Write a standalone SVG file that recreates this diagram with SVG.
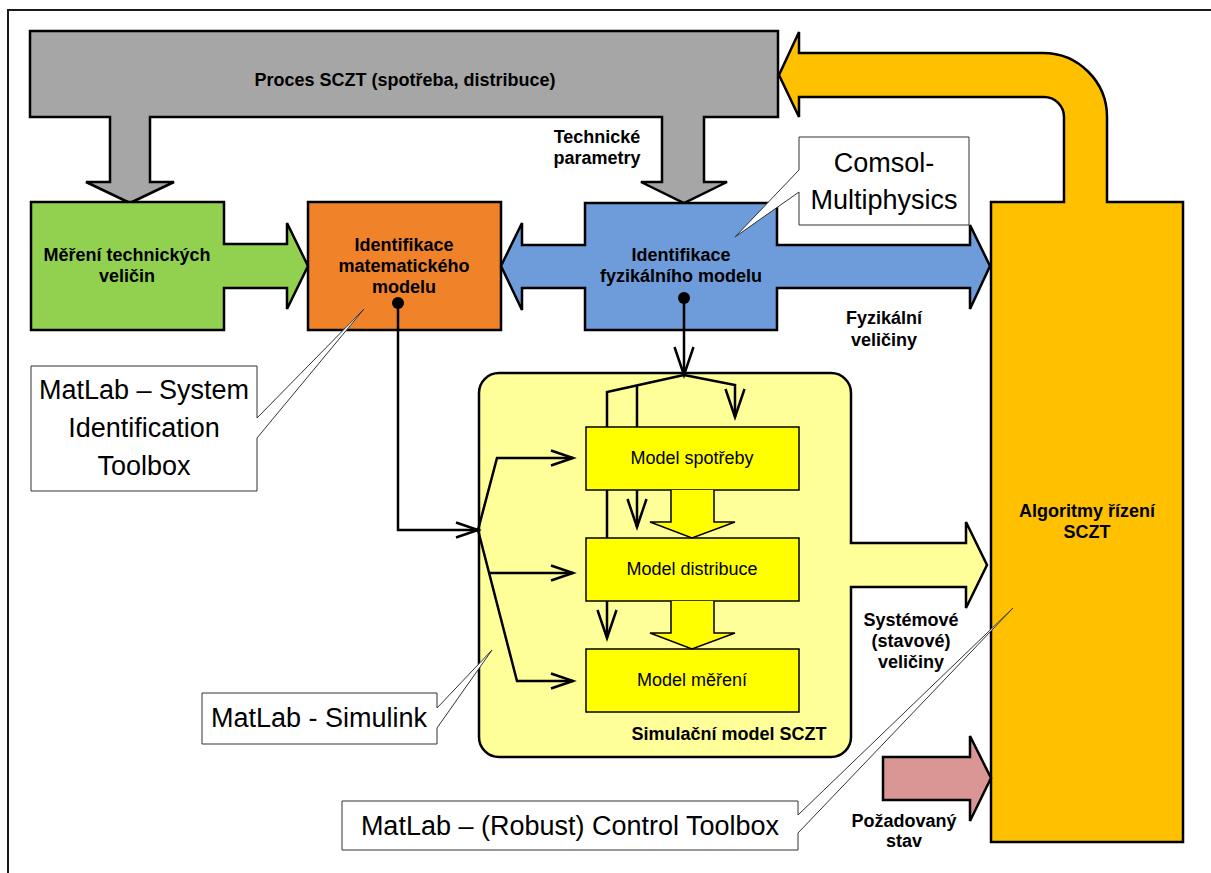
<svg xmlns="http://www.w3.org/2000/svg" width="1211" height="873" viewBox="0 0 1211 873">
<style>
.blk{stroke:#000;stroke-width:2.5;stroke-linejoin:miter}
.thin{stroke:#000;stroke-width:1.5}
.co{fill:#fff;stroke:#333;stroke-width:1}
.ln{fill:none;stroke:#000;stroke-width:2.5}
text{font-family:"Liberation Sans",Arial,sans-serif;text-anchor:middle;fill:#000}
.b{font-size:18px;font-weight:bold}
.r{font-size:18px}
.c{font-size:27px}
</style>
<defs>
<marker id="ah" markerUnits="userSpaceOnUse" markerWidth="26" markerHeight="20" viewBox="0 0 26 20" refX="23" refY="10" orient="auto" overflow="visible">
<path d="M1,2.5 L23,10 L1,17.5" fill="none" stroke="#000" stroke-width="2.5"/>
</marker>
<marker id="ahl" markerUnits="userSpaceOnUse" markerWidth="32" markerHeight="22" viewBox="0 0 32 22" refX="29" refY="11" orient="auto" overflow="visible">
<path d="M1,1.5 L29,11 L1,20.5" fill="none" stroke="#000" stroke-width="2.5"/>
</marker>
</defs>
<rect width="1211" height="873" fill="#fff"/>
<path d="M8,873 V10 H1211" fill="none" stroke="#1a1a1a" stroke-width="2"/>

<g id="proces">
<path class="blk" fill="#A6A6A6" d="M30,31 H778 V117 H704 V182 H727 L684,203 L641,182 H662 V117 H150 V182 H174 L130,203 L86,182 H110 V117 H30 Z"/>
<text class="b" x="405" y="86">Proces SCZT (spotřeba, distribuce)</text>
</g>

<g id="mereni">
<path class="blk" fill="#92D050" d="M31,202 H224 V244 H287 V223 L308,266 L287,309 V288 H224 V330 H31 Z"/>
<text class="b" x="127" y="261">Měření technických</text>
<text class="b" x="127" y="282">veličin</text>
</g>

<g id="ident-mat">
<rect class="blk" fill="#F0832A" x="308" y="202" width="193" height="128"/>
<text class="b" x="404" y="251">Identifikace</text>
<text class="b" x="404" y="272">matematického</text>
<text class="b" x="404" y="293">modelu</text>
</g>

<g id="ident-fyz">
<path class="blk" fill="#6E9BDA" d="M585,203 H777 V245 H970 V225 L990,266 L970,309 V288 H777 V330 H585 V288 H522 V310 L501,266 L522,223 V245 H585 Z"/>
<text class="b" x="681" y="261">Identifikace</text>
<text class="b" x="681" y="282">fyzikálního modelu</text>
</g>

<g id="algoritmy">
<path class="blk" fill="#FFC000" d="M991,202 H1064 V117 A20,20 0 0 0 1044,97 H799 V117 L779,75 L799,32 V53 H1043 A64,64 0 0 1 1107,117 V202 H1183 V842 H991 Z"/>
<text class="b" x="1087" y="517">Algoritmy řízení</text>
<text class="b" x="1087" y="538">SCZT</text>
</g>

<g id="pozadovany">
<path class="blk" fill="#D99694" d="M883,757 H970 V736 L991,778 L970,821 V800 H883 Z"/>
</g>

<g id="simulacni">
<path class="blk" fill="#FFFF99" d="M499,373 H831 A20,20 0 0 1 851,393 V543 H966 V522 L987,565 L966,608 V587 H851 V737 A20,20 0 0 1 831,757 H499 A20,20 0 0 1 479,737 V393 A20,20 0 0 1 499,373 Z"/>
<text class="b" x="729" y="740">Simulační model SCZT</text>
</g>

<g id="connectors">
<circle cx="398" cy="303" r="6" fill="#000"/>
<path class="ln" d="M398,303 V530 H478" marker-end="url(#ah)"/>
<circle cx="684" cy="298" r="6" fill="#000"/>
<path class="ln" d="M684,298 V375" marker-end="url(#ahl)"/>
<path class="ln" d="M684,375 L607,392 V638" marker-end="url(#ahl)"/>
<path class="ln" d="M637,385 V527" marker-end="url(#ahl)"/>
<path class="ln" d="M684,375 L735,385 V417" marker-end="url(#ahl)"/>
<path class="ln" d="M478,530 L497,458 H573" marker-end="url(#ah)"/>
<path class="ln" d="M478,530 L517,681 H573" marker-end="url(#ah)"/>
<path class="ln" d="M489,573 H573" marker-end="url(#ah)"/>
</g>

<g id="model-spotreby">
<rect class="thin" fill="#FFFF00" x="586" y="427" width="213" height="63"/>
<text class="r" x="692" y="464">Model spotřeby</text>
</g>
<g id="model-distribuce">
<rect class="thin" fill="#FFFF00" x="586" y="538" width="213" height="63"/>
<text class="r" x="692" y="575">Model distribuce</text>
</g>
<g id="model-mereni">
<rect class="thin" fill="#FFFF00" x="586" y="649" width="213" height="63"/>
<text class="r" x="692" y="686">Model měření</text>
</g>
<g id="flow-arrows">
<path class="thin" fill="#FFFF00" d="M671,490 V522 H650 L692,538 L735,522 H714 V490"/>
<path class="thin" fill="#FFFF00" d="M671,601 V633 H650 L692,649 L735,633 H714 V601"/>
</g>

<g id="callout-sysid">
<path class="co" d="M31,366 H257 V418 L364,309 L257,438 V491 H31 Z"/>
<text class="c" x="144" y="399">MatLab – System</text>
<text class="c" x="144" y="437">Identification</text>
<text class="c" x="144" y="475">Toolbox</text>
</g>
<g id="callout-comsol">
<path class="co" d="M799,137 H969 V225 H799 V192 L735,237 L799,170 Z"/>
<text class="c" x="884" y="172">Comsol-</text>
<text class="c" x="884" y="209">Multiphysics</text>
</g>
<g id="callout-simulink">
<path class="co" d="M202,693 H437 V708 L492,650 L437,728 V744 H202 Z"/>
<text class="c" x="319" y="727">MatLab - Simulink</text>
</g>
<g id="callout-control">
<path class="co" d="M342,801 H798 V815 L1013,608 L798,833 V850 H342 Z"/>
<text class="c" x="570" y="835">MatLab – (Robust) Control Toolbox</text>
</g>

<g id="labels">
<text class="b" x="597" y="143">Technické</text>
<text class="b" x="597" y="164">parametry</text>
<text class="b" x="884" y="324">Fyzikální</text>
<text class="b" x="884" y="346">veličiny</text>
<text class="b" x="911" y="626">Systémové</text>
<text class="b" x="911" y="647">(stavové)</text>
<text class="b" x="911" y="668">veličiny</text>
<text class="b" x="904" y="827">Požadovaný</text>
<text class="b" x="904" y="847">stav</text>
</g>
</svg>
